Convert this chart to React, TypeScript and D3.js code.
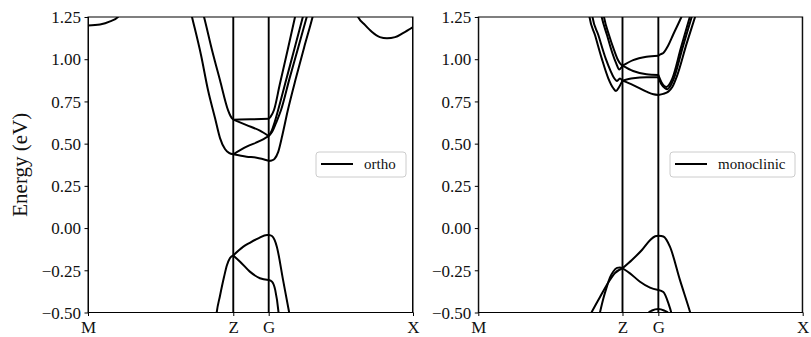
import React, { useRef, useEffect } from "react";
import * as d3 from "d3";

type Pt = [number, number];

// k-path (fraction of path length) and labels
const kLabels = ["M", "Z", "G", "X"];
const orthoKTicks = [0, 0.447, 0.556, 1];
const monoKTicks = [0, 0.4445, 0.555, 1];
const energyTicks = [-0.5, -0.25, 0, 0.25, 0.5, 0.75, 1.0, 1.25];
const legendNames = ["ortho", "monoclinic"];

// ortho bands [k, E(eV)]
const orthoConduction: Pt[][] = [
  [[0, 1.2], [0.037, 1.206], [0.068, 1.224], [0.092, 1.25], [0.11, 1.3]],
  [[0.82, 1.3], [0.831, 1.25], [0.852, 1.203], [0.874, 1.161], [0.898, 1.131], [0.92, 1.124], [0.945, 1.131], [0.969, 1.155], [1.0, 1.191]],
  [[0.31, 1.33], [0.32, 1.25], [0.3477, 1.025], [0.3692, 0.818], [0.3908, 0.652], [0.4062, 0.533], [0.4215, 0.468], [0.4338, 0.445], [0.447, 0.437]],
  [[0.35, 1.3], [0.357, 1.25], [0.3815, 1.055], [0.406, 0.877], [0.4308, 0.699], [0.4385, 0.664], [0.447, 0.642]],
  [[0.447, 0.642], [0.5, 0.644], [0.556, 0.647]],
  [[0.447, 0.642], [0.488, 0.61], [0.529, 0.577], [0.556, 0.545]],
  [[0.447, 0.437], [0.488, 0.482], [0.529, 0.516], [0.556, 0.545]],
  [[0.447, 0.437], [0.488, 0.423], [0.519, 0.417], [0.556, 0.399]],
  [[0.556, 0.647], [0.562, 0.66], [0.5723, 0.699], [0.59, 0.85], [0.615, 1.06], [0.637, 1.25], [0.646, 1.33]],
  [[0.556, 0.545], [0.565, 0.575], [0.574, 0.625], [0.585, 0.699], [0.61, 0.88], [0.635, 1.06], [0.661, 1.25], [0.672, 1.33]],
  [[0.556, 0.545], [0.567, 0.572], [0.578, 0.62], [0.594, 0.699], [0.62, 0.885], [0.647, 1.07], [0.673, 1.25], [0.685, 1.33]],
  [[0.556, 0.397], [0.565, 0.4], [0.574, 0.41], [0.585, 0.45], [0.598, 0.55], [0.615, 0.699], [0.64, 0.89], [0.665, 1.07], [0.691, 1.25], [0.7, 1.32]],
];

const orthoValence: Pt[][] = [
  [[0.393, -0.55], [0.396, -0.5], [0.406, -0.402], [0.4185, -0.29], [0.4277, -0.219], [0.437, -0.177], [0.447, -0.162]],
  [[0.447, -0.162], [0.478, -0.11], [0.498, -0.087], [0.524, -0.061], [0.551, -0.041], [0.556, -0.041]],
  [[0.447, -0.162], [0.468, -0.199], [0.498, -0.258], [0.529, -0.297], [0.556, -0.307]],
  [[0.556, -0.041], [0.566, -0.047], [0.574, -0.07], [0.581, -0.11], [0.6, -0.305], [0.619, -0.5], [0.624, -0.55]],
  [[0.556, -0.307], [0.566, -0.317], [0.576, -0.366], [0.586, -0.495], [0.5885, -0.55]],
];

// monoclinic bands [k, E(eV)]
const monoConduction: Pt[][] = [
  [[0.339, 1.3], [0.3428, 1.25], [0.3597, 1.143], [0.3804, 1.005], [0.4007, 0.887], [0.4162, 0.828], [0.4245, 0.812], [0.4346, 0.837], [0.4445, 0.873]],
  [[0.348, 1.3], [0.352, 1.25], [0.37, 1.143], [0.3925, 1.005], [0.408, 0.93], [0.418, 0.89], [0.4276, 0.871], [0.4368, 0.886], [0.4445, 0.873]],
  [[0.375, 1.3], [0.3804, 1.25], [0.3967, 1.143], [0.4121, 1.043], [0.4245, 0.978], [0.4346, 0.939], [0.4399, 0.948], [0.4445, 0.962]],
  [[0.383, 1.3], [0.3875, 1.25], [0.4029, 1.143], [0.4183, 1.055], [0.4306, 0.995], [0.4383, 0.972], [0.4445, 0.962]],
  [[0.4445, 0.962], [0.4773, 0.995], [0.5185, 1.015], [0.555, 1.021]],
  [[0.4445, 0.962], [0.4773, 0.93], [0.5185, 0.911], [0.555, 0.907]],
  [[0.4445, 0.873], [0.4773, 0.887], [0.5185, 0.893], [0.555, 0.893]],
  [[0.4445, 0.873], [0.4773, 0.847], [0.5185, 0.808], [0.54, 0.792], [0.555, 0.788]],
  [[0.555, 1.021], [0.563, 1.03], [0.5704, 1.037], [0.585, 1.08], [0.6012, 1.148], [0.626, 1.25], [0.637, 1.3]],
  [[0.555, 0.907], [0.564, 0.865], [0.573, 0.842], [0.58, 0.836], [0.588, 0.848], [0.598, 0.885], [0.625, 1.07], [0.652, 1.25], [0.661, 1.31]],
  [[0.555, 0.893], [0.565, 0.85], [0.5755, 0.828], [0.5826, 0.822], [0.59, 0.835], [0.6011, 0.877], [0.63, 1.07], [0.6578, 1.25], [0.667, 1.31]],
  [[0.555, 0.788], [0.57, 0.795], [0.5857, 0.808], [0.598, 0.835], [0.6116, 0.896], [0.6424, 1.094], [0.6682, 1.25], [0.678, 1.31]],
];

const monoValence: Pt[][] = [
  [[0.335, -0.55], [0.3496, -0.497], [0.3752, -0.408], [0.3998, -0.325], [0.4214, -0.266], [0.4445, -0.238]],
  [[0.369, -0.55], [0.3752, -0.498], [0.3855, -0.417], [0.3958, -0.35], [0.406, -0.292], [0.4162, -0.257], [0.4276, -0.236], [0.4368, -0.233], [0.4445, -0.238]],
  [[0.4445, -0.238], [0.4735, -0.189], [0.5044, -0.13], [0.53, -0.071], [0.5454, -0.048], [0.555, -0.045]],
  [[0.4445, -0.238], [0.4676, -0.268], [0.4985, -0.318], [0.5293, -0.353], [0.555, -0.367]],
  [[0.555, -0.045], [0.5704, -0.05], [0.5907, -0.11], [0.6215, -0.307], [0.6528, -0.497], [0.661, -0.55]],
  [[0.555, -0.367], [0.5704, -0.379], [0.5857, -0.444], [0.5962, -0.512], [0.6, -0.55]],
  [[0.515, -0.55], [0.524, -0.503], [0.5355, -0.488], [0.555, -0.479], [0.5725, -0.488], [0.5857, -0.503], [0.595, -0.55]],
];

const width = 811;
const height = 337;
const top = 17;
const bottom = 312.5;
const font = "'Liberation Serif', 'DejaVu Serif', serif";

const panels = [
  { left: 88, right: 413, kTicks: orthoKTicks, bands: [...orthoConduction, ...orthoValence], name: legendNames[0], legendX: 316, legendW: 90 },
  { left: 478.3, right: 802.7, kTicks: monoKTicks, bands: [...monoConduction, ...monoValence], name: legendNames[1], legendX: 670, legendW: 125 },
];

const App: React.FC = () => {
  const svgRef = useRef<SVGSVGElement | null>(null);

  useEffect(() => {
    if (!svgRef.current) return;
    const svg = d3.select(svgRef.current);
    svg.selectAll("*").remove();

    const y = d3.scaleLinear().domain([-0.5, 1.25]).range([bottom, top]);

    panels.forEach((p, i) => {
      const x = d3.scaleLinear().domain([0, 1]).range([p.left, p.right]);
      const g = svg.append("g");

      const clipId = `clip-${i}`;
      g.append("clipPath")
        .attr("id", clipId)
        .append("rect")
        .attr("x", p.left)
        .attr("y", top)
        .attr("width", p.right - p.left)
        .attr("height", bottom - top);

      const plot = g.append("g").attr("clip-path", `url(#${clipId})`);

      // high-symmetry vertical lines
      plot
        .selectAll(".vline")
        .data(p.kTicks)
        .enter()
        .append("line")
        .attr("x1", (d) => x(d))
        .attr("x2", (d) => x(d))
        .attr("y1", top)
        .attr("y2", bottom)
        .attr("stroke", "black")
        .attr("stroke-width", 1.9);

      const line = d3
        .line<Pt>()
        .x((d) => x(d[0]))
        .y((d) => y(d[1]))
        .curve(d3.curveMonotoneX);

      plot
        .selectAll(".band")
        .data(p.bands)
        .enter()
        .append("path")
        .attr("d", (d) => line(d))
        .attr("fill", "none")
        .attr("stroke", "black")
        .attr("stroke-width", 2)
        .attr("stroke-linejoin", "round");

      // frame
      g.append("rect")
        .attr("x", p.left)
        .attr("y", top)
        .attr("width", p.right - p.left)
        .attr("height", bottom - top)
        .attr("fill", "none")
        .attr("stroke", "black")
        .attr("stroke-width", 1);

      // y axis
      const yAxis = d3
        .axisLeft(y)
        .tickValues(energyTicks)
        .tickFormat(d3.format(".2f") as any)
        .tickSize(3.5)
        .tickPadding(3.5);
      const ya = g.append("g").attr("transform", `translate(${p.left},0)`).call(yAxis);
      ya.select(".domain").remove();
      ya.attr("font-family", font).attr("font-size", 17);
      ya.selectAll("line").attr("stroke", "black");
      ya.selectAll("text").attr("fill", "#111").attr("dy", "0.34em");

      // x axis
      const xAxis = d3
        .axisBottom(x)
        .tickValues(p.kTicks)
        .tickFormat((_d, j) => kLabels[j])
        .tickSize(3.5)
        .tickPadding(5);
      const xa = g.append("g").attr("transform", `translate(0,${bottom})`).call(xAxis);
      xa.select(".domain").remove();
      xa.attr("font-family", font).attr("font-size", 17);
      xa.selectAll("line").attr("stroke", "black");
      xa.selectAll("text").attr("fill", "#111");

      // legend
      const lg = g.append("g");
      lg.append("rect")
        .attr("x", p.legendX)
        .attr("y", 152)
        .attr("width", p.legendW)
        .attr("height", 25)
        .attr("rx", 3)
        .attr("fill", "white")
        .attr("fill-opacity", 0.8)
        .attr("stroke", "#cccccc")
        .attr("stroke-width", 1);
      lg.append("line")
        .attr("x1", p.legendX + 5)
        .attr("x2", p.legendX + 37)
        .attr("y1", 164)
        .attr("y2", 164)
        .attr("stroke", "black")
        .attr("stroke-width", 2);
      lg.append("text")
        .attr("x", p.legendX + 48)
        .attr("y", 168.5)
        .attr("font-family", font)
        .attr("font-size", 15)
        .attr("fill", "#111")
        .text(p.name);
    });

    svg
      .append("text")
      .attr("transform", `translate(27,${(top + bottom) / 2}) rotate(-90)`)
      .attr("text-anchor", "middle")
      .attr("font-family", font)
      .attr("font-size", 21)
      .attr("fill", "#111")
      .text("Energy (eV)");
  }, []);

  return (
    <svg
      ref={svgRef}
      width={width}
      height={height}
      style={{ position: "absolute", left: 0, top: 0, display: "block", background: "white" }}
    />
  );
};

export default App;
